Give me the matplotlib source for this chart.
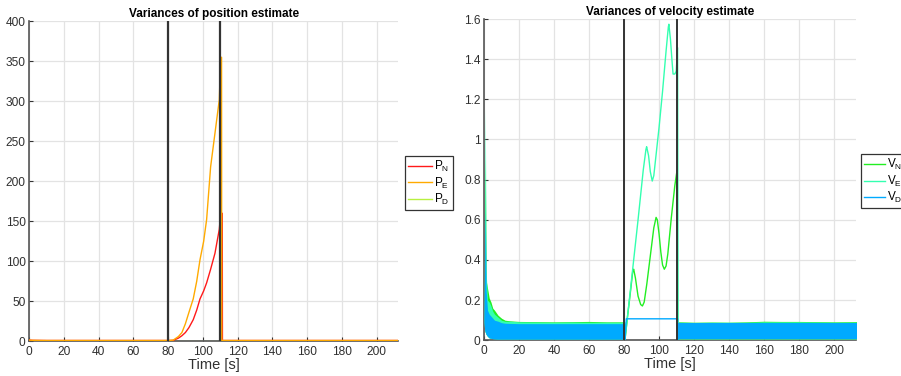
import matplotlib
matplotlib.use("Agg")
import matplotlib.pyplot as plt

plt.rcParams['font.family'] = ['Liberation Sans', 'DejaVu Sans']
plt.rcParams['mathtext.fontset'] = 'custom'
plt.rcParams['mathtext.rm'] = 'Liberation Sans'

# ---------------- Data: position variances ----------------
pos_t_N = [0, 2, 10, 40, 80, 83, 86, 88, 90, 92, 94.5, 96.5, 98.4, 100.5, 102.2, 104.5, 107, 109.5, 110.3, 111.2, 111.3, 111.6, 150, 213]
P_N = [1.5, 1.2, 1.0, 1.0, 1.0, 1.2, 4, 7, 11, 17, 27, 39, 53, 63, 73, 90, 110, 140, 160, 160, 1.0, 1.0, 1.0, 1.0]
pos_t_E = [0, 2, 10, 40, 80, 83, 86, 88, 90, 92, 94.5, 96.5, 98.4, 100.5, 102.2, 104.5, 107, 109.5, 110.3, 110.8, 110.9, 111.2, 150, 213]
P_E = [1.5, 1.2, 1.0, 1.0, 1.0, 1.5, 6, 11, 22, 36, 53, 75, 102, 125, 152, 218, 260, 302, 355, 355, 1.0, 1.0, 1.0, 1.0]
P_D = [0.1, 0.1, 0.1, 0.1, 0.1, 0.1, 0.1, 0.1, 0.1, 0.1, 0.1, 0.1, 0.1, 0.1, 0.1, 0.1, 0.1, 0.1, 0.1, 0.1, 0.1, 0.1, 0.1, 0.1]

# ---------------- Data: velocity variances ----------------
# oscillating band (envelopes) before the outage
band1_t = [0, 0.4, 0.75, 1.2, 2, 3, 4, 5, 6, 8, 10, 12, 15, 20, 30, 40, 50, 60, 70, 80.5]
VN_up1 = [0.12, 0.5, 0.9, 0.3, 0.26, 0.21, 0.19, 0.16, 0.15, 0.125, 0.11, 0.1, 0.097, 0.094, 0.093, 0.092, 0.093, 0.094, 0.092, 0.092]
VE_up1 = [0.12, 0.6, 1.155, 0.35, 0.2, 0.19, 0.17, 0.145, 0.13, 0.115, 0.1, 0.095, 0.095, 0.092, 0.091, 0.09, 0.091, 0.09, 0.09, 0.09]
VD_up1 = [0.1, 0.4, 0.65, 0.25, 0.15, 0.13, 0.12, 0.11, 0.1, 0.095, 0.088, 0.085, 0.084, 0.083, 0.083, 0.083, 0.083, 0.083, 0.083, 0.083]
VD_lo1 = [0.09, 0.05, 0.04, 0.03, 0.02, 0.012, 0.01, 0.008, 0.007, 0.006, 0.006, 0.006, 0.006, 0.006, 0.006, 0.006, 0.006, 0.006, 0.006, 0.006]
# outage period
out_t = [80.5, 82, 83.5, 85, 85.5, 86.5, 88, 89.5, 90.5, 91.5, 93, 95, 97, 98.3, 99, 100, 101, 102, 103, 104, 105, 106, 107, 108, 109, 110.3, 110.6]
VN_out = [0.0, 0.12, 0.23, 0.345, 0.354, 0.31, 0.22, 0.178, 0.171, 0.19, 0.28, 0.42, 0.56, 0.612, 0.6, 0.53, 0.44, 0.375, 0.354, 0.37, 0.43, 0.52, 0.61, 0.69, 0.77, 0.848, 0.0]
out_t2 = [80.5, 84, 88, 91, 92.5, 92.9, 94, 95, 96.1, 97, 98, 100, 102, 104, 105.3, 105.6, 106.5, 107.5, 108, 109, 109.8, 110.6, 110.9]
VE_out = [0.0, 0.28, 0.6, 0.85, 0.95, 0.964, 0.92, 0.84, 0.793, 0.82, 0.9, 1.06, 1.24, 1.44, 1.56, 1.574, 1.5, 1.38, 1.326, 1.326, 1.34, 1.457, 0.0]
out_t3 = [80.5, 81.3, 110.6, 110.9]
VD_out = [0.0, 0.107, 0.107, 0.0]
# oscillating band after the outage
band2_t = [110.9, 112, 120, 130, 140, 150, 160, 170, 180, 190, 200, 213]
VN_up2 = [0.092, 0.092, 0.09, 0.091, 0.09, 0.092, 0.095, 0.094, 0.094, 0.093, 0.092, 0.093]
VE_up2 = [0.09, 0.09, 0.089, 0.09, 0.09, 0.09, 0.092, 0.092, 0.092, 0.091, 0.09, 0.09]
VD_up2 = [0.085, 0.085, 0.085, 0.085, 0.085, 0.085, 0.085, 0.085, 0.085, 0.085, 0.085, 0.085]
VD_lo2 = [0.006, 0.006, 0.006, 0.006, 0.006, 0.006, 0.006, 0.006, 0.006, 0.006, 0.006, 0.006]

outage_lines = [80, 110]

pos_yticks = [0, 50, 100, 150, 200, 250, 300, 350, 400]
vel_yticks = [0, 0.2, 0.4, 0.6, 0.8, 1, 1.2, 1.4, 1.6]
vel_yticklabels = ['0', '0.2', '0.4', '0.6', '0.8', '1', '1.2', '1.4', '1.6']
xticks = [0, 20, 40, 60, 80, 100, 120, 140, 160, 180, 200]

C_PN, C_PE, C_PD = '#ff1a1a', '#ffaa00', '#b8f040'
C_VN, C_VE, C_VD = '#22ee22', '#33ffb0', '#00aaff'
TXT = '#303030'
GRID = '#e3e3e3'

W, H = 901, 376
fig = plt.figure(figsize=(W / 100, H / 100), dpi=100)


def style(ax, yticks, yticklabels, title, title_pad):
    ax.set_xlim(0, 212.5)
    ax.set_xticks(xticks)
    ax.set_yticks(yticks)
    ax.set_yticklabels(yticklabels)
    ax.grid(True, color=GRID, linewidth=0.9)
    ax.set_axisbelow(True)
    for s in ['top', 'right']:
        ax.spines[s].set_visible(False)
    for s in ['left', 'bottom']:
        ax.spines[s].set_color('#555555')
        ax.spines[s].set_linewidth(1.2)
    ax.tick_params(direction='in', length=3, width=0.8, colors='#333333', labelsize=8.6,
                   labelcolor=TXT)
    ax.tick_params(axis='x', pad=3.2)
    ax.tick_params(axis='y', pad=2.5)
    ax.set_xlabel('Time [s]', fontsize=10.5, color=TXT, labelpad=0.5)
    ax.set_title(title, fontsize=8.5, fontweight='bold', color='black', pad=title_pad)


leg_kw = dict(loc='upper left', fontsize=8.5, handletextpad=0.15, borderpad=0.25,
              labelspacing=0.12, borderaxespad=0, fancybox=False, framealpha=1,
              edgecolor='#333333')

# ---------- left: position ----------
ax1 = fig.add_axes([29 / W, 1 - 341.3 / H, (398.3 - 29) / W, (341.3 - 21.3) / H])
ax1.plot(pos_t_N, P_N, color=C_PN, lw=1.0, label=r'P$_\mathrm{N}$', zorder=3)
ax1.plot(pos_t_E, P_E, color=C_PE, lw=1.0, label=r'P$_\mathrm{E}$', zorder=3)
ax1.plot(pos_t_E, P_D, color=C_PD, lw=1.0, label=r'P$_\mathrm{D}$', zorder=2)
for x in outage_lines:
    ax1.axvline(x, color='#333333', lw=1.6, zorder=5)
ax1.set_ylim(0, 400)
style(ax1, pos_yticks, [str(v) for v in pos_yticks], 'Variances of position estimate', 3)
leg1 = ax1.legend(bbox_to_anchor=(404.7 / W, 1 - 156 / H), bbox_transform=fig.transFigure,
                  handlelength=2.1, **leg_kw)
leg1.get_frame().set_linewidth(0.9)

# ---------- right: velocity ----------
ax2 = fig.add_axes([484 / W, 1 - 340.3 / H, (856 - 484) / W, (340.3 - 19) / H])
ax2.fill_between(band1_t, VD_lo1, VN_up1, color=C_VN, lw=0, zorder=2)
ax2.fill_between(band1_t, VD_lo1, VE_up1, color=C_VE, lw=0, zorder=3)
ax2.fill_between(band1_t, VD_lo1, VD_up1, color=C_VD, lw=0, zorder=4)
ax2.fill_between(band2_t, VD_lo2, VN_up2, color=C_VN, lw=0, zorder=2)
ax2.fill_between(band2_t, VD_lo2, VE_up2, color=C_VE, lw=0, zorder=3)
ax2.fill_between(band2_t, VD_lo2, VD_up2, color=C_VD, lw=0, zorder=4)
ax2.plot(out_t, VN_out, color=C_VN, lw=1.0, label=r'V$_\mathrm{N}$', zorder=3)
ax2.plot(out_t2, VE_out, color=C_VE, lw=1.0, label=r'V$_\mathrm{E}$', zorder=3)
ax2.plot(out_t3, VD_out, color=C_VD, lw=1.0, label=r'V$_\mathrm{D}$', zorder=4)
for x in outage_lines:
    ax2.axvline(x, color='#333333', lw=1.4, zorder=5)
ax2.set_ylim(0, 1.6)
style(ax2, vel_yticks, vel_yticklabels, 'Variances of velocity estimate', 3)
leg2 = ax2.legend(bbox_to_anchor=(861 / W, 1 - 154.3 / H), bbox_transform=fig.transFigure,
                  handlelength=1.8, **leg_kw)
leg2.get_frame().set_linewidth(0.9)

fig.savefig('out.png', dpi=100)
